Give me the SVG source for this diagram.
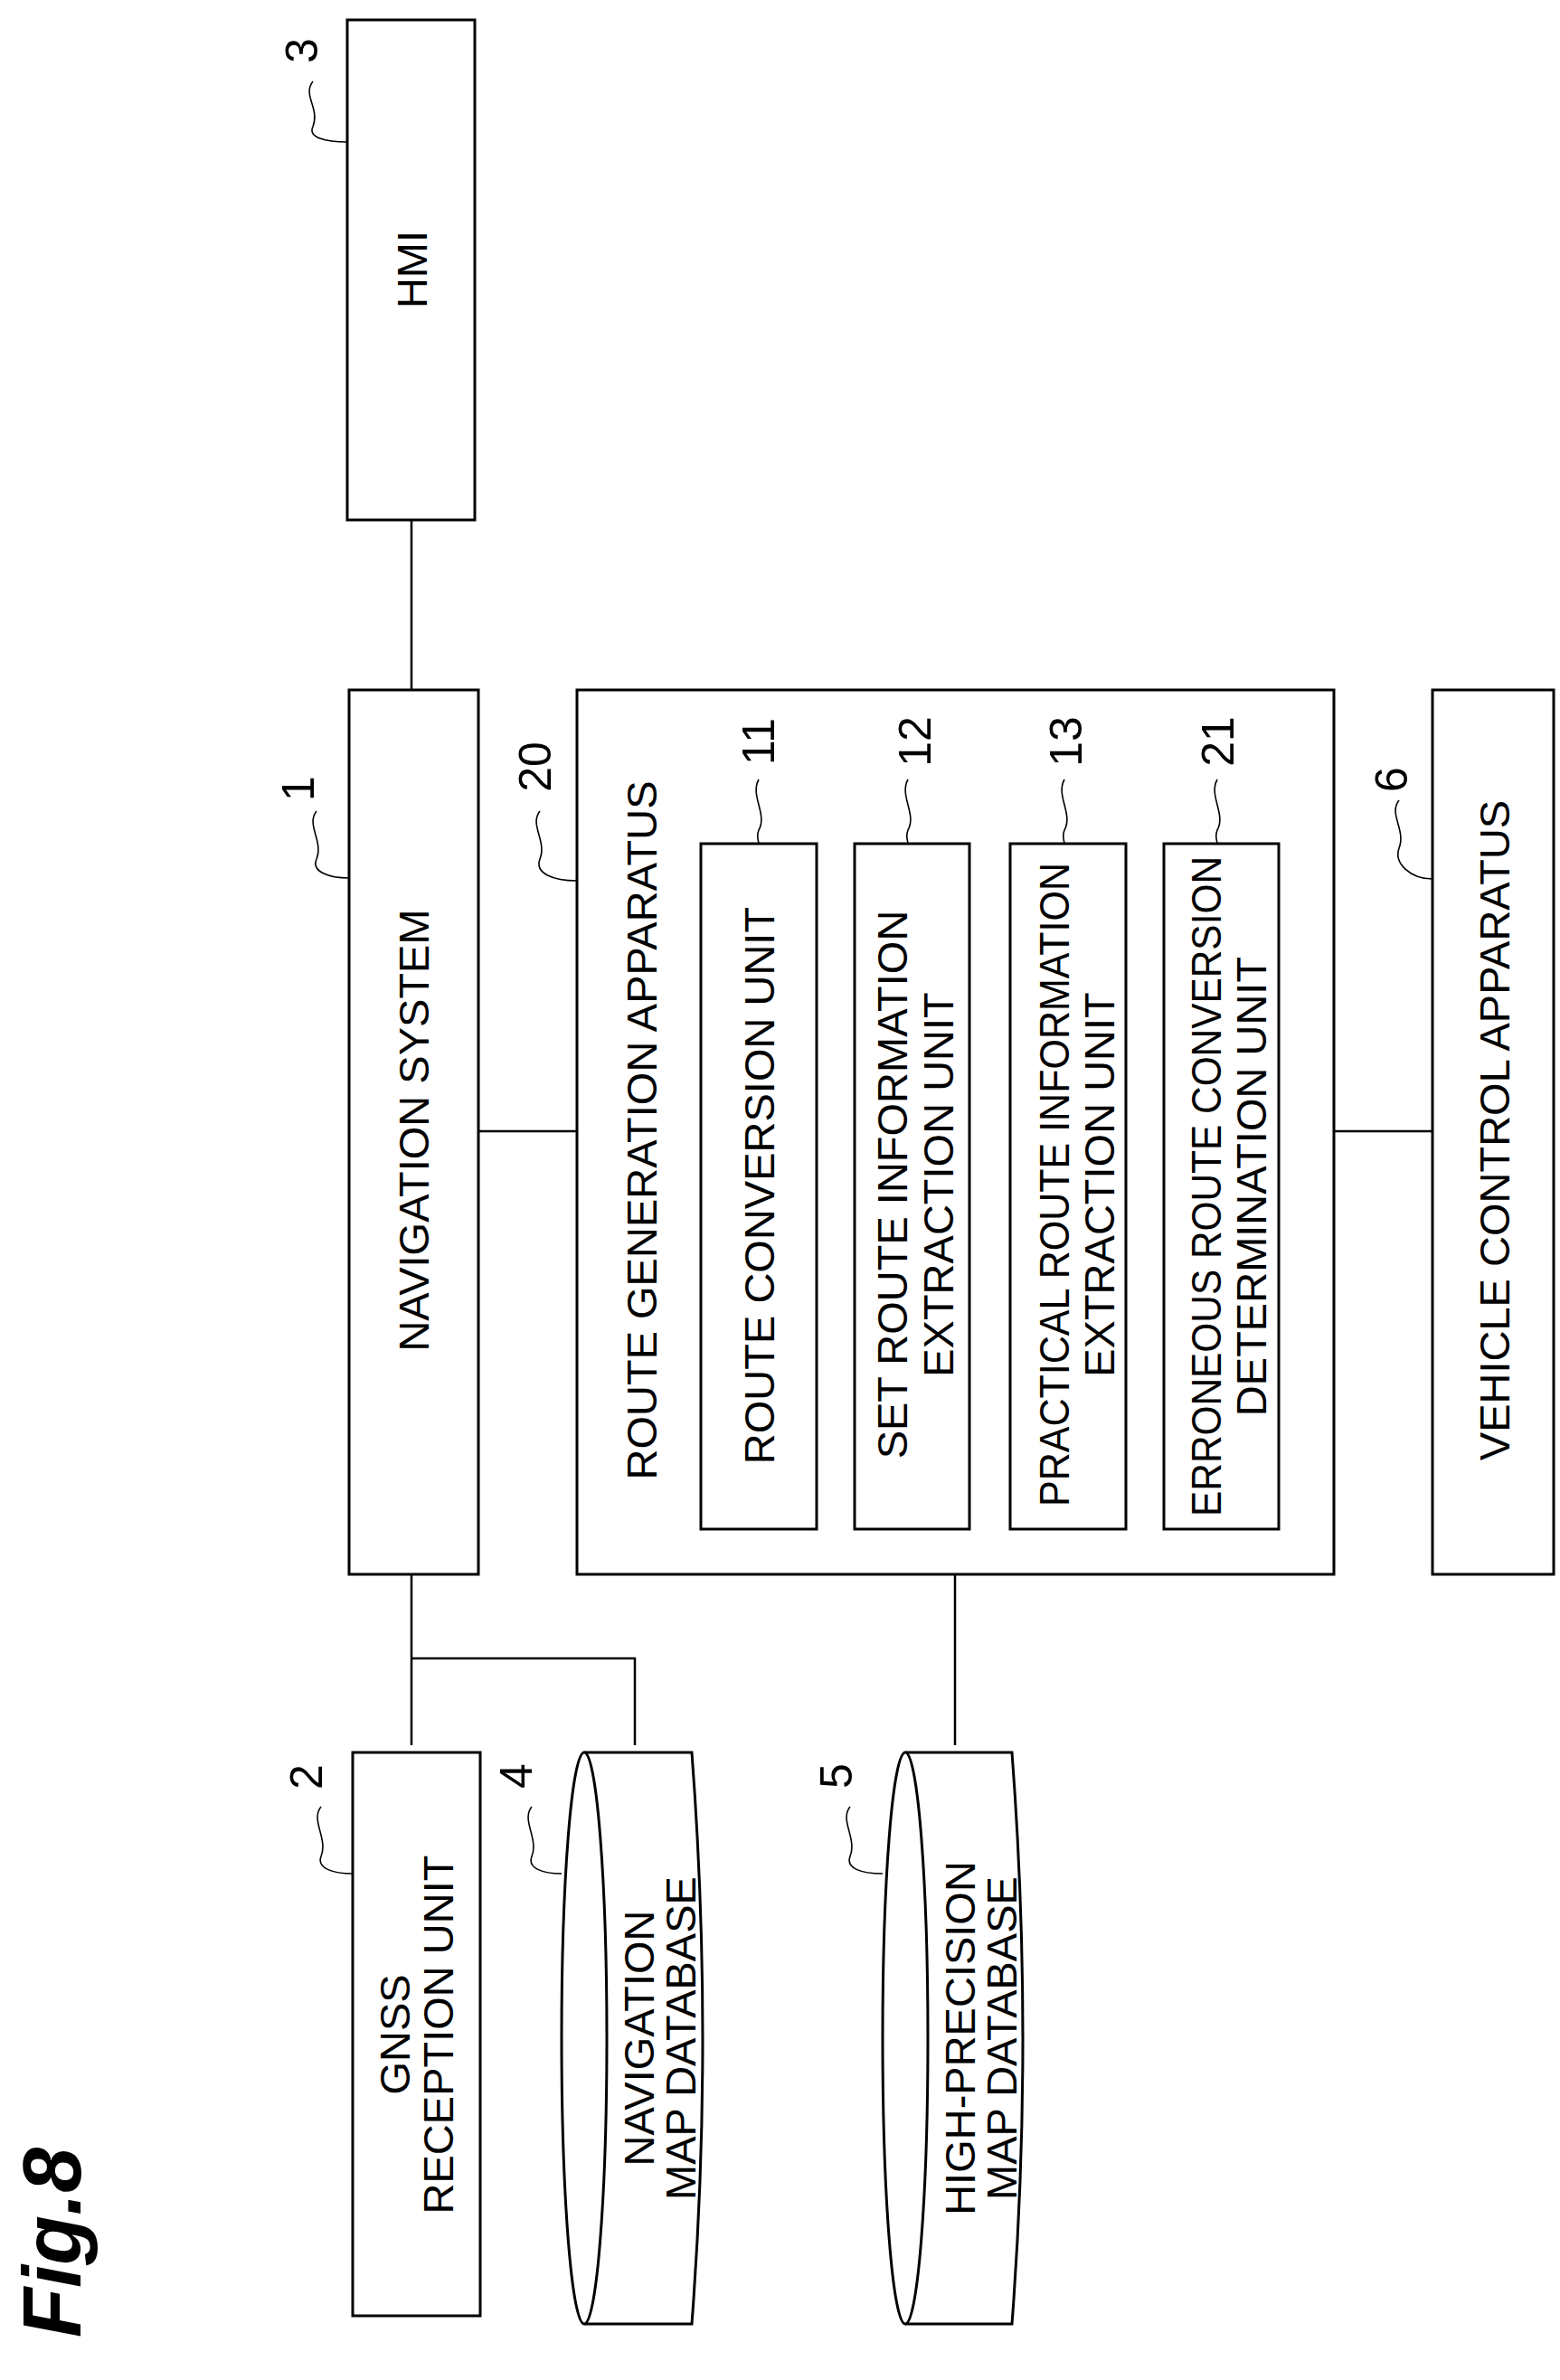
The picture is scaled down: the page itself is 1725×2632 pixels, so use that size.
<svg xmlns="http://www.w3.org/2000/svg" width="1725" height="2632" viewBox="0 0 1725 2632">
<style>
.b{fill:#fff;stroke:#000;stroke-width:3}
.l{fill:none;stroke:#000;stroke-width:2.5}
.ld{fill:none;stroke:#000;stroke-width:1.6}
text{font-family:"Liberation Sans",Arial,sans-serif;font-size:47px;text-anchor:middle;dominant-baseline:central}
.n{font-size:50px}
</style>
<rect width="1725" height="2632" fill="#fff"/>
<g id="connectors">
<path class="l" d="M455,575V763M529,1251H638M1475,1251H1584M455,1741V1930M455,1834H702V1930M1056,1741V1930"/>
</g>
<g id="hmi"><rect class="b" x="384" y="22" width="141" height="553"/><text transform="translate(455,298) rotate(-90)">HMI</text>
<text class="n" transform="translate(334,56) rotate(-90)">3</text><path class="ld" d="M346,90 C334,105 354,120 346,140 C340,152 360,157 384,157"/></g>
<g id="nav"><rect class="b" x="386" y="763" width="143" height="978"/><text transform="translate(457,1250) rotate(-90)">NAVIGATION SYSTEM</text>
<text class="n" transform="translate(330,872) rotate(-90)">1</text><path class="ld" d="M350,897 C338,912 358,930 350,950 C344,964 364,971 386,971"/></g>
<g id="rga"><rect class="b" x="638" y="763" width="837" height="978"/><text transform="translate(709,1250) rotate(-90)">ROUTE GENERATION APPARATUS</text>
<text class="n" transform="translate(592,848) rotate(-90)">20</text><path class="ld" d="M597,897 C585,912 605,930 597,950 C591,966 612,974 638,974"/></g>
<g id="u11"><rect class="b" x="775" y="933" width="128" height="758"/><text transform="translate(839,1311) rotate(-90)">ROUTE CONVERSION UNIT</text>
<text class="n" transform="translate(839,820) rotate(-90)">11</text><path class="ld" d="M839,862 C829,880 849,900 839,918 C836,926 839,930 839,933"/></g>
<g id="u12"><rect class="b" x="945" y="933" width="127" height="758"/><text transform="translate(986,1310) rotate(-90)">SET ROUTE INFORMATION</text><text transform="translate(1037,1310) rotate(-90)">EXTRACTION UNIT</text>
<text class="n" transform="translate(1012,820) rotate(-90)">12</text><path class="ld" d="M1004,862 C994,880 1014,900 1004,918 C1001,926 1004,930 1004,933"/></g>
<g id="u13"><rect class="b" x="1117" y="933" width="128" height="758"/><text transform="translate(1165,1310) rotate(-90)" textLength="712" lengthAdjust="spacingAndGlyphs">PRACTICAL ROUTE INFORMATION</text><text transform="translate(1215,1310) rotate(-90)">EXTRACTION UNIT</text>
<text class="n" transform="translate(1179,820) rotate(-90)">13</text><path class="ld" d="M1177,862 C1167,880 1187,900 1177,918 C1174,926 1177,930 1177,933"/></g>
<g id="u21"><rect class="b" x="1287" y="933" width="127" height="758"/><text transform="translate(1333,1312) rotate(-90)" textLength="730" lengthAdjust="spacingAndGlyphs">ERRONEOUS ROUTE CONVERSION</text><text transform="translate(1383,1312) rotate(-90)">DETERMINATION UNIT</text>
<text class="n" transform="translate(1347,820) rotate(-90)">21</text><path class="ld" d="M1346,862 C1336,880 1356,900 1346,918 C1343,926 1346,930 1346,933"/></g>
<g id="vca"><rect class="b" x="1584" y="763" width="134" height="978"/><text transform="translate(1652,1250) rotate(-90)">VEHICLE CONTROL APPARATUS</text>
<text class="n" transform="translate(1539,862) rotate(-90)">6</text><path class="ld" d="M1547,885 C1535,900 1555,918 1547,938 C1541,955 1560,972 1584,972"/></g>
<g id="gnss"><rect class="b" x="390" y="1938" width="141" height="623"/><text transform="translate(436,2250) rotate(-90)">GNSS</text><text transform="translate(484,2250) rotate(-90)">RECEPTION UNIT</text>
<text class="n" transform="translate(339,1965) rotate(-90)">2</text><path class="ld" d="M355,1998 C343,2013 363,2033 355,2053 C350,2066 368,2072 390,2072"/></g>
<g id="navdb"><path class="b" d="M646,1938 H765 Q789,2254 765,2570 H646"/><ellipse class="b" cx="646" cy="2254" rx="25" ry="316"/><text transform="translate(706,2254) rotate(-90)">NAVIGATION</text><text transform="translate(752,2254) rotate(-90)">MAP DATABASE</text>
<text class="n" transform="translate(571,1964) rotate(-90)">4</text><path class="ld" d="M588,1998 C576,2013 596,2033 588,2053 C583,2066 600,2072 621,2072"/></g>
<g id="hpdb"><path class="b" d="M1001,1938 H1119 Q1143,2254 1119,2570 H1001"/><ellipse class="b" cx="1001" cy="2254" rx="25" ry="316"/><text transform="translate(1061,2254) rotate(-90)">HIGH-PRECISION</text><text transform="translate(1107,2254) rotate(-90)">MAP DATABASE</text>
<text class="n" transform="translate(925,1964) rotate(-90)">5</text><path class="ld" d="M940,1998 C928,2013 948,2033 940,2053 C935,2066 952,2072 976,2072"/></g>
<text transform="translate(58,2480) rotate(-90)" style="font-size:90px;font-weight:bold;font-style:italic">Fig.8</text>
</svg>
